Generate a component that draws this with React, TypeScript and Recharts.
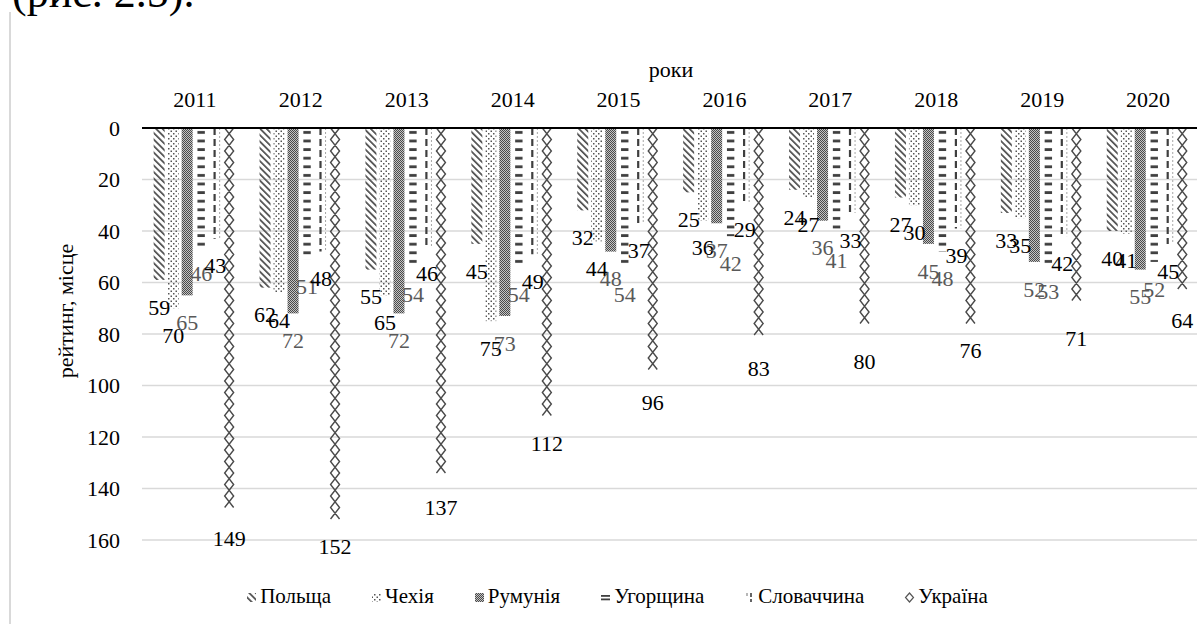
import React from "react";
import { Bar, BarChart, CartesianGrid, LabelList, XAxis, YAxis } from "recharts";

const years = ["2011", "2012", "2013", "2014", "2015", "2016", "2017", "2018", "2019", "2020"];
const poland = [59, 62, 55, 45, 32, 25, 24, 27, 33, 40];
const czechia = [70, 64, 65, 75, 44, 36, 27, 30, 35, 41];
const romania = [65, 72, 72, 73, 48, 37, 36, 45, 52, 55];
const hungary = [46, 51, 54, 54, 54, 42, 41, 48, 53, 52];
const slovakia = [43, 48, 46, 49, 37, 29, 33, 39, 42, 45];
const ukraine = [149, 152, 137, 112, 96, 83, 80, 76, 71, 64];
const yTicks = [0, 20, 40, 60, 80, 100, 120, 140, 160];

const data = years.map((year, i) => ({
  year,
  poland: poland[i],
  czechia: czechia[i],
  romania: romania[i],
  hungary: hungary[i],
  slovakia: slovakia[i],
  ukraine: ukraine[i],
}));

const FONT = "Liberation Serif, Times New Roman, serif";
const DARK = "#3f3f3f";

// bars hang down from 0 on a reversed axis, so height can come in negative
const norm = (p: any) => {
  const top = Math.min(p.y, p.y + p.height);
  return { x: p.x, top, w: p.width, h: Math.abs(p.height) };
};

const fillShape = (id: string, inset = 0) => (p: any) => {
  const { x, top, w, h } = norm(p);
  return <rect x={x + inset} y={top} width={Math.max(w - inset * 2, 0)} height={h} fill={`url(#${id})`} />;
};

const slovakiaShape = (p: any) => {
  const { x, top, w, h } = norm(p);
  const cx = x + w * 0.45;
  return (
    <g>
      <line x1={cx} x2={cx} y1={top} y2={top + h} stroke={DARK} strokeWidth={2.2} strokeDasharray="7 4" />
      <line x1={x + w - 1} x2={x + w - 1} y1={top} y2={top + h} stroke="#a6a6a6" strokeWidth={1} strokeDasharray="2 2" />
    </g>
  );
};

const ukraineShape = (p: any) => {
  const { x, top, w, h } = norm(p);
  const half = 11.5;
  const n = Math.floor(h / half);
  let a = `M${x + 1},${top}`;
  let b = `M${x + w - 1},${top}`;
  for (let k = 1; k <= n; k++) {
    const yy = top + k * half;
    const left = k % 2 === 0;
    a += ` L${left ? x + 1 : x + w - 1},${yy}`;
    b += ` L${left ? x + w - 1 : x + 1},${yy}`;
  }
  return <path d={`${a} ${b}`} fill="none" stroke="#4a4a4a" strokeWidth={1.4} />;
};

const series = [
  { key: "poland", name: "Польща", shape: fillShape("pat-diag"), labelColor: "#000" },
  { key: "czechia", name: "Чехія", shape: fillShape("pat-dots"), labelColor: "#000" },
  { key: "romania", name: "Румунія", shape: fillShape("pat-check"), labelColor: "#595959" },
  { key: "hungary", name: "Угорщина", shape: fillShape("pat-h", 1.8), labelColor: "#595959" },
  { key: "slovakia", name: "Словаччина", shape: slovakiaShape, labelColor: "#000" },
  { key: "ukraine", name: "Україна", shape: ukraineShape, labelColor: "#000" },
];

const labelContent = (color: string) => (p: any) => {
  const end = Math.max(p.y, p.y + p.height);
  return (
    <text
      x={p.x + p.width / 2}
      y={end + 27}
      dy="0.35em"
      textAnchor="middle"
      style={{ fontFamily: FONT, fontSize: 22 }}
      fill={color}
    >
      {p.value}
    </text>
  );
};

function Patterns() {
  return (
    <svg width={0} height={0} style={{ position: "absolute" }}>
      <defs>
        <pattern id="pat-diag" patternUnits="userSpaceOnUse" width={4.6} height={4.6} patternTransform="rotate(-45)">
          <rect x={0} y={0} width={1.7} height={4.6} fill="#4d4d4d" />
        </pattern>
        <pattern id="pat-dots" patternUnits="userSpaceOnUse" width={5} height={5}>
          <rect x={0.5} y={0.5} width={1.5} height={1.5} fill="#555" />
          <rect x={3} y={3} width={1.5} height={1.5} fill="#555" />
        </pattern>
        <pattern id="pat-check" patternUnits="userSpaceOnUse" width={2} height={2}>
          <rect x={0} y={0} width={2} height={2} fill="#c4c4c4" />
          <rect x={0} y={0} width={1} height={1} fill="#4a4a4a" />
          <rect x={1} y={1} width={1} height={1} fill="#4a4a4a" />
        </pattern>
        <pattern id="pat-h" patternUnits="userSpaceOnUse" width={10} height={8.6}>
          <rect x={0} y={2} width={10} height={2.8} fill={DARK} />
        </pattern>
      </defs>
    </svg>
  );
}

function LegendIcon({ k }: { k: string }) {
  if (k === "hungary")
    return (
      <svg width={11} height={12}>
        <rect x={1} y={4} width={9} height={1.8} fill={DARK} />
        <rect x={1} y={7.5} width={9} height={1.8} fill={DARK} />
      </svg>
    );
  if (k === "slovakia")
    return (
      <svg width={11} height={12}>
        <line x1={3} x2={3} y1={2} y2={5} stroke="#888" strokeWidth={1.2} />
        <line x1={7} x2={7} y1={2} y2={11} stroke={DARK} strokeWidth={1.6} strokeDasharray="4 2" />
      </svg>
    );
  if (k === "ukraine")
    return (
      <svg width={11} height={12}>
        <path d="M5.5,2 L9.5,6.5 L5.5,11 L1.5,6.5 Z" fill="none" stroke="#555" strokeWidth={1.2} />
      </svg>
    );
  const id = k === "poland" ? "pat-diag" : k === "czechia" ? "pat-dots" : "pat-check";
  return (
    <svg width={11} height={12}>
      <rect x={1} y={2} width={9} height={9} fill={`url(#${id})`} />
    </svg>
  );
}

const axisTick = { fill: "#000", fontSize: 22, fontFamily: FONT };

export default function App() {
  return (
    <div
      style={{
        position: "fixed",
        left: 0,
        top: 0,
        width: 1197,
        height: 624,
        overflow: "hidden",
        background: "#fff",
        fontFamily: FONT,
      }}
    >
      <Patterns />
      <div
        style={{
          position: "absolute",
          left: 12,
          top: -29,
          fontSize: 44,
          lineHeight: 1,
          color: "#000",
          whiteSpace: "nowrap",
        }}
      >
        (рис. 2.5).
      </div>
      <div style={{ position: "absolute", left: 9, top: 12, width: 2, height: 620, background: "#d9d9d9" }} />
      <div style={{ position: "absolute", left: 0, top: 0 }}>
        <BarChart
          width={1230}
          height={624}
          data={data}
          margin={{ top: 98, right: 29, bottom: 84, left: 42 }}
          barCategoryGap="11%"
          barGap={3}
        >
          <CartesianGrid vertical={false} stroke="#d9d9d9" strokeWidth={1.5} />
          <XAxis
            dataKey="year"
            orientation="top"
            height={30}
            tickLine={false}
            axisLine={{ stroke: "#000", strokeWidth: 2 }}
            tick={axisTick}
            tickMargin={15}
            interval={0}
            label={{
              content: () => (
                <text x={671} y={77} textAnchor="middle" style={{ fontFamily: FONT, fontSize: 22 }} fill="#000">
                  роки
                </text>
              ),
            }}
          />
          <YAxis
            reversed
            domain={[0, 160]}
            ticks={yTicks}
            width={100}
            axisLine={false}
            tickLine={false}
            tickMargin={16}
            tick={axisTick}
            label={{
              content: () => (
                <text
                  x={73}
                  y={311}
                  transform="rotate(-90 73 311)"
                  textAnchor="middle"
                  style={{ fontFamily: FONT, fontSize: 22 }}
                  fill="#000"
                >
                  рейтинг, місце
                </text>
              ),
            }}
          />
          {series.map((s) => (
            <Bar key={s.key} dataKey={s.key} name={s.name} shape={s.shape} isAnimationActive={false}>
              <LabelList dataKey={s.key} content={labelContent(s.labelColor)} />
            </Bar>
          ))}
        </BarChart>
      </div>
      <div
        style={{
          position: "absolute",
          left: 10,
          width: 1214,
          top: 584,
          display: "flex",
          justifyContent: "center",
          alignItems: "center",
          gap: 40,
          fontSize: 21,
          color: "#000",
        }}
      >
        {series.map((s) => (
          <div key={s.key} style={{ display: "flex", alignItems: "center" }}>
            <LegendIcon k={s.key} />
            <span style={{ marginLeft: 3 }}>{s.name}</span>
          </div>
        ))}
      </div>
    </div>
  );
}
